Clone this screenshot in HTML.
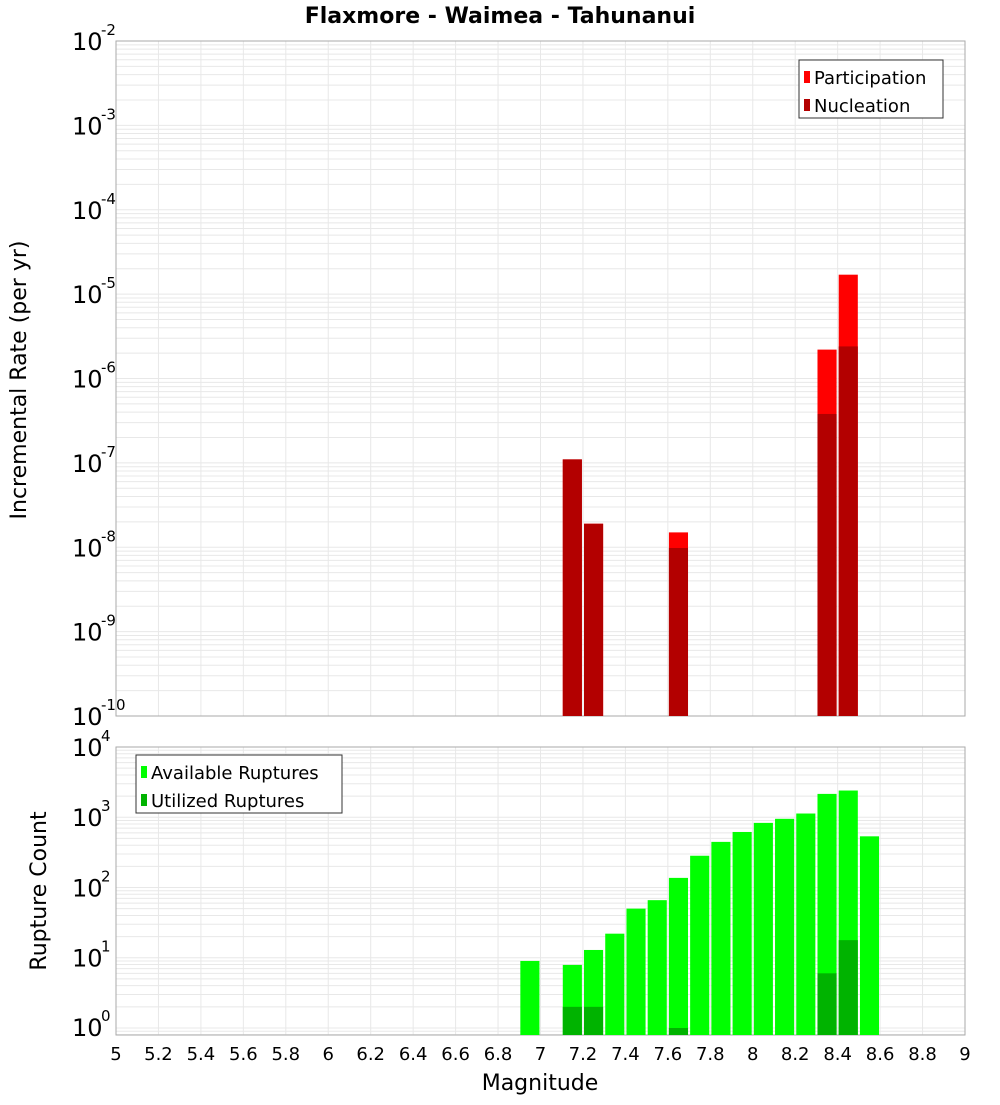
<!DOCTYPE html>
<html><head><meta charset="utf-8"><style>
body{margin:0;background:#fff;font-family:"Liberation Sans","DejaVu Sans",sans-serif}
</style></head><body>
<svg id="c" width="1000" height="1100" xmlns="http://www.w3.org/2000/svg" font-family="DejaVu Sans, Liberation Sans, sans-serif"></svg>
<script>
const mags=[6.95,7.15,7.25,7.35,7.45,7.55,7.65,7.75,7.85,7.95,8.05,8.15,8.25,8.35,8.45,8.55];
const available=[9,7.9,12.9,22,50,66,137,283,446,617,831,950,1130,2150,2400,535];
const utilizedMags=[7.15,7.25,7.65,8.35,8.45];
const utilized=[2,2,1,6,17.8];
const rateMags=[7.15,7.25,7.65,8.35,8.45];
const participation=[1.1e-7,1.9e-8,1.5e-8,2.2e-6,1.7e-5];
const nucleation=[1.1e-7,1.9e-8,9.8e-9,3.8e-7,2.4e-6];
const xTicks=[5,5.2,5.4,5.6,5.8,6,6.2,6.4,6.6,6.8,7,7.2,7.4,7.6,7.8,8,8.2,8.4,8.6,8.8,9];
const topExps=[-2,-3,-4,-5,-6,-7,-8,-9,-10];
const botExps=[4,3,2,1,0];

const svg=document.getElementById('c');
const NS='http://www.w3.org/2000/svg';
function el(t,a,p){const e=document.createElementNS(NS,t);for(const k in a)e.setAttribute(k,a[k]);(p||svg).appendChild(e);return e;}
const X0=116,X1=965;
const xs=m=>X0+(m-5)/4*(X1-X0);
const T0=41,T1=716; const yt=v=>T1-(Math.log10(v)+10)/8*(T1-T0);
const B0=747,B1=1035; const yb=v=>B1-(Math.log10(v)+0.1)/4.1*(B1-B0);
const BW=0.09*(X1-X0)/4;

function grid(y0,y1,lo,hi,yf){
  const g=el('g',{});
  
  
  for(let e=Math.floor(lo);e<hi;e++)for(let k=1;k<10;k++){const v=k*Math.pow(10,e);const y=yf(v);if(y<y0-0.5||y>y1+0.5)continue;el('line',{x1:X0,x2:X1,y1:y,y2:y,stroke:'#e8e8e8','stroke-width':1},g);}
  xTicks.forEach(t=>{const x=xs(t);el('line',{x1:x,x2:x,y1:y0,y2:y1,stroke:'#e8e8e8','stroke-width':1},g);});
  const r=el('rect',{x:X0,y:y0,width:X1-X0,height:y1-y0,fill:'none',stroke:'#aaa'});
  
  
}
grid(T0,T1,-10,-2,yt);
grid(B0,B1,-1,4,yb);

// top bars
rateMags.forEach((m,i)=>{
  const x=xs(m)-BW/2;
  const p=el('rect',{x:x,y:yt(participation[i]),width:BW,height:T1-yt(participation[i]),fill:'#ff0000'});
  
  
  const n=el('rect',{x:x,y:yt(nucleation[i]),width:BW,height:T1-yt(nucleation[i]),fill:'#b30000'});
  
  
});
mags.forEach((m,i)=>{
  const x=xs(m)-BW/2;
  const b=el('rect',{x:x,y:yb(available[i]),width:BW,height:B1-yb(available[i]),fill:'#00ff00'});
  
  
});
utilizedMags.forEach((m,i)=>{
  const x=xs(m)-BW/2;
  const b=el('rect',{x:x,y:yb(utilized[i]),width:BW,height:B1-yb(utilized[i]),fill:'#00b300'});
  
  
});

function ylab(e,y){
  const t=el('text',{x:72,y:y+9,'font-size':24,fill:'#000'});
  
  
  t.textContent='10';
  const s=el('text',{x:101,y:y-6,'font-size':15,fill:'#000'});
  
  
  s.textContent=String(e);
}
topExps.forEach(e=>ylab(e,yt(Math.pow(10,e))));
botExps.forEach(e=>ylab(e,Math.min(yb(Math.pow(10,e)),1027)));
xTicks.forEach(t=>{
  const tx=el('text',{x:xs(t),y:1060,'font-size':18,'text-anchor':'middle',fill:'#000'});
  
  
  tx.textContent=String(t);
});
function txt(s,a,name){const t=el('text',a);t.textContent=s;return t;}
txt('Flaxmore - Waimea - Tahunanui',{x:500,y:23,'font-size':22,'font-weight':'bold','text-anchor':'middle'},'chart-title');
txt('Magnitude',{x:540,y:1090,'font-size':22,'text-anchor':'middle'},'x-axis-title');
txt('Incremental Rate (per yr)',{x:0,y:0,'font-size':22,'text-anchor':'middle',transform:'translate(26,380) rotate(-90)'},'top-y-axis-title');
txt('Rupture Count',{x:0,y:0,'font-size':22,'text-anchor':'middle',transform:'translate(46,891) rotate(-90)'},'bottom-y-axis-title');

function legend(x,y,w,items,name){
  const g=el('g',{});
  
  
  el('rect',{x:x,y:y,width:w,height:58,fill:'#fff',stroke:'#333'},g);
  items.forEach((it,i)=>{
    el('rect',{x:x+5,y:y+11+i*28,width:6,height:12,fill:it[1]},g);
    const t=el('text',{x:x+15,y:y+24+i*28,'font-size':18},g);t.textContent=it[0];
  });
}
legend(799,60,144,[['Participation','#ff0000'],['Nucleation','#b30000']],'rate-legend');
legend(136,755,206,[['Available Ruptures','#00ff00'],['Utilized Ruptures','#00b300']],'count-legend');
</script>
</body></html>
